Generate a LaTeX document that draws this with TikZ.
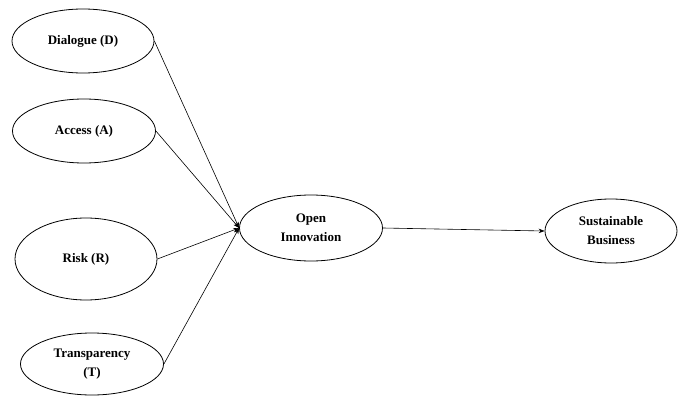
\documentclass[tikz,border=0pt]{standalone}
\usepackage{fontspec}
\setmainfont{Liberation Serif}
\usetikzlibrary{shapes.geometric,arrows.meta}
\begin{document}
\begin{tikzpicture}[x=1pt,y=-1pt,
  oval/.style={ellipse,draw,line width=0.8pt,inner sep=0pt,align=center,
    font=\fontsize{13}{19}\selectfont\bfseries},
  conn/.style={line width=0.6pt,-{Stealth[length=6pt,width=4.5pt]}}]
\useasboundingbox (0,0) rectangle (678,396);
\node[oval,minimum width=142,minimum height=64] (D) at (83,41) {Dialogue (D)};
\node[oval,minimum width=143,minimum height=64] (A) at (84,131) {Access (A)};
\node[oval,minimum width=142,minimum height=82] (R) at (86,259) {Risk (R)};
\node[oval,minimum width=143,minimum height=62] (T) at (92,364) {Transparency\\(T)};
\node[oval,minimum width=143,minimum height=66] (OI) at (311,228) {Open\\Innovation};
\node[oval,minimum width=132,minimum height=64] (SB) at (611,231) {Sustainable\\Business};
\draw[conn] (D.east) -- (OI.west);
\draw[conn] (A.east) -- (OI.west);
\draw[conn] (R.east) -- (OI.west);
\draw[conn] (T.east) -- (OI.west);
\draw[conn] (OI.east) -- (SB.west);
\end{tikzpicture}
\end{document}
